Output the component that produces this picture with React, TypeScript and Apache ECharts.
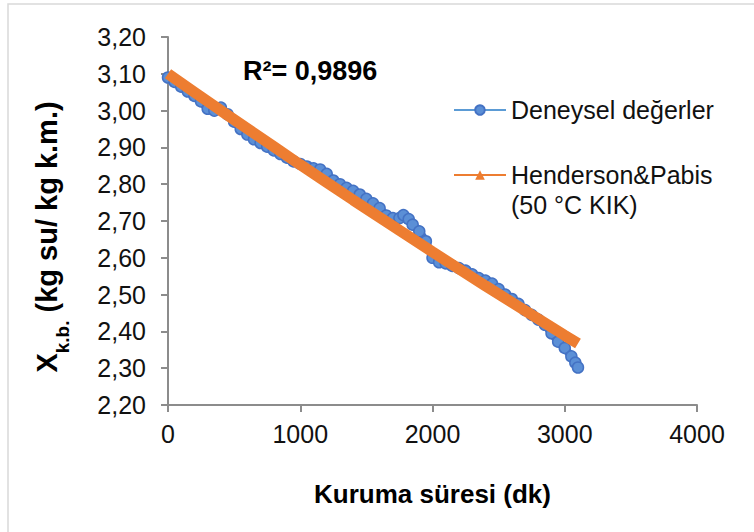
import React, { useEffect, useRef } from "react";
import * as echarts from "echarts";

// Drying time (min) and measured moisture content (kg water / kg dry matter)
const dryingTimeMin = [
  0, 50, 100, 150, 200, 250, 300, 350, 400, 450, 500, 550, 600, 650, 700, 750, 800, 850, 900, 950,
  1000, 1050, 1100, 1150, 1200, 1250, 1300, 1350, 1400, 1450, 1500, 1550, 1600, 1650, 1700, 1750,
  1780, 1820, 1850, 1900, 1950, 2000, 2050, 2100, 2150, 2200, 2250, 2300, 2350, 2400, 2450, 2500,
  2550, 2600, 2650, 2700, 2750, 2800, 2850, 2900, 2950, 3000, 3050, 3080, 3100,
];
const measuredX = [
  3.09, 3.078, 3.065, 3.052, 3.04, 3.025, 3.005, 3.0, 3.008, 2.99, 2.97, 2.95, 2.935, 2.922, 2.912,
  2.902, 2.892, 2.882, 2.872, 2.862, 2.855, 2.848, 2.843, 2.84, 2.828, 2.81, 2.8, 2.79, 2.782, 2.772,
  2.76, 2.748, 2.735, 2.715, 2.708, 2.708, 2.716, 2.705, 2.69, 2.672, 2.645, 2.6, 2.588, 2.585, 2.578,
  2.572, 2.565, 2.555, 2.545, 2.538, 2.53, 2.515, 2.5, 2.488, 2.475, 2.458, 2.445, 2.432, 2.418, 2.395,
  2.372, 2.355, 2.332, 2.315, 2.302,
];

// Henderson & Pabis model curve
const modelTimeMin = [0, 200, 400, 600, 800, 1000, 1200, 1400, 1600, 1800, 2000, 2200, 2400, 2600, 2800, 3000, 3100];
const modelX = [3.1, 3.05, 3.0, 2.951, 2.902, 2.853, 2.805, 2.757, 2.71, 2.663, 2.616, 2.57, 2.524, 2.479, 2.434, 2.389, 2.367];

const seriesNames = ["Deneysel değerler", "Henderson&Pabis\n(50 °C KIK)"];
const r2Label = "R²= 0,9896";
const xAxisTitle = "Kuruma süresi (dk)";

const FONT = "'Liberation Sans', Arial, sans-serif";

export default function App() {
  const ref = useRef<HTMLDivElement>(null);

  useEffect(() => {
    if (!ref.current) return;
    const chart = echarts.init(ref.current, null, { renderer: "svg" });

    const measured = dryingTimeMin.map((t, i) => [t, measuredX[i]]);
    const model = modelTimeMin.map((t, i) => [t, modelX[i]]);

    chart.setOption({
      animation: false,
      backgroundColor: "#ffffff",
      textStyle: { fontFamily: FONT },
      grid: { left: 168, right: 57, top: 37, bottom: 127, containLabel: false },
      xAxis: {
        type: "value",
        min: 0,
        max: 4000,
        interval: 1000,
        name: xAxisTitle,
        nameLocation: "middle",
        nameGap: 76,
        nameTextStyle: { fontFamily: FONT, fontSize: 26, fontWeight: "bold", color: "#000" },
        axisLine: { show: true, lineStyle: { color: "#8C8C8C", width: 2 } },
        axisTick: { show: true, length: 7, lineStyle: { color: "#8C8C8C", width: 2 } },
        axisLabel: {
          fontFamily: FONT,
          fontSize: 25,
          color: "#111",
          margin: 16,
          formatter: (v: number) => String(v),
        },
        splitLine: { show: false },
      },
      yAxis: {
        type: "value",
        min: 2.2,
        max: 3.2,
        interval: 0.1,
        axisLine: { show: true, lineStyle: { color: "#8C8C8C", width: 2 } },
        axisTick: { show: true, length: 7, lineStyle: { color: "#8C8C8C", width: 2 } },
        axisLabel: {
          fontFamily: FONT,
          fontSize: 25,
          color: "#111",
          margin: 22,
          formatter: (v: number) => v.toFixed(2).replace(".", ","),
        },
        splitLine: { show: false },
      },
      legend: {
        orient: "vertical",
        left: 448,
        top: 90,
        itemWidth: 52,
        itemHeight: 12,
        itemGap: 5,
        textStyle: { fontFamily: FONT, fontSize: 25, color: "#111", lineHeight: 30 },
        formatter: (name: string) => (name === seriesNames[1] ? "\n" + name : name),
        data: [
          { name: seriesNames[0], lineStyle: { color: "#5B9BD5", width: 2 } },
          { name: seriesNames[1], lineStyle: { color: "#ED7D31", width: 2 } },
        ],
      },
      graphic: [
        {
          type: "rect",
          silent: true,
          z: -10,
          shape: { x: 8, y: 4, width: 800, height: 600 },
          style: { fill: "none", stroke: "#D9D9D9", lineWidth: 1.5 },
        },
        {
          type: "text",
          x: 243,
          y: 71,
          style: {
            text: r2Label,
            font: `bold 27px ${FONT}`,
            fill: "#000",
            textVerticalAlign: "middle",
          },
        },
        {
          type: "text",
          x: 47,
          y: 237,
          rotation: Math.PI / 2,
          style: {
            text: "{x|X}{s|k.b.}{t| (kg su/ kg k.m.)}",
            align: "center",
            verticalAlign: "middle",
            rich: {
              x: { fontFamily: FONT, fontSize: 29, fontWeight: "bold", fill: "#000", lineHeight: 34 },
              s: {
                fontFamily: FONT,
                fontSize: 19,
                fontWeight: "bold",
                fill: "#000",
                lineHeight: 34,
                verticalAlign: "bottom",
                padding: [0, 0, -8, 0],
              },
              t: { fontFamily: FONT, fontSize: 29, fontWeight: "bold", fill: "#000", lineHeight: 34 },
            },
          },
        },
      ],
      series: [
        {
          name: seriesNames[0],
          type: "line",
          data: measured,
          symbol: "circle",
          symbolSize: 11,
          showSymbol: true,
          z: 2,
          lineStyle: { color: "#4472C4", width: 8 },
          itemStyle: { color: "#5B8FD6", borderColor: "#4472C4", borderWidth: 1.5 },
        },
        {
          name: seriesNames[1],
          type: "line",
          data: model,
          symbol: "triangle",
          showSymbol: false,
          z: 3,
          lineStyle: { color: "#ED7D31", width: 11 },
          itemStyle: { color: "#ED7D31" },
        },
      ],
    });

    return () => chart.dispose();
  }, []);

  return (
    <div
      ref={ref}
      style={{ position: "fixed", left: 0, top: 0, width: 754, height: 532, background: "#fff" }}
    />
  );
}
